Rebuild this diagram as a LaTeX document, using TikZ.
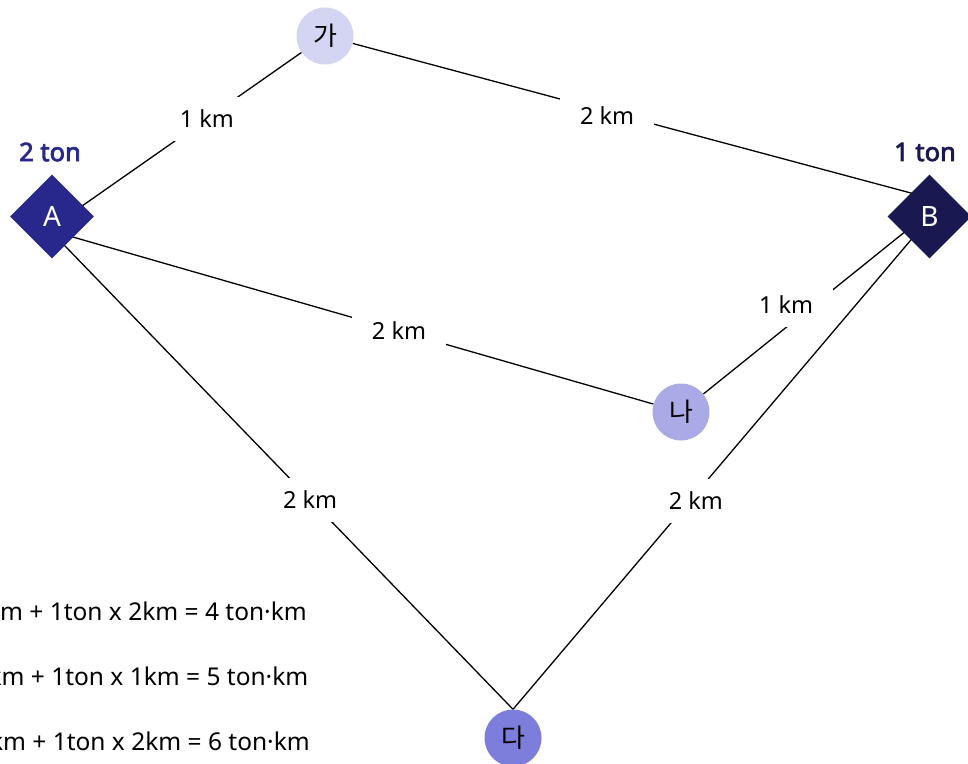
\documentclass[tikz,border=0pt]{standalone}
\usepackage{fontspec}
\setmainfont{Noto Sans}
\newfontfamily\krfont{Noto Sans CJK KR}
\newfontfamily\heavyfont[FakeBold=3]{Noto Sans}
\usetikzlibrary{shapes.geometric,backgrounds}

\definecolor{hubA}{HTML}{28288C}
\definecolor{hubB}{HTML}{1A1850}
\definecolor{siteGa}{HTML}{D4D4F3}
\definecolor{siteNa}{HTML}{AAAAE6}
\definecolor{siteDa}{HTML}{7D7DDC}

\begin{document}
\begin{tikzpicture}[x=1pt,y=-1pt,
  hub/.style={diamond, aspect=1, minimum width=84pt, minimum height=84pt,
    inner sep=0pt, text=white, font=\fontsize{28}{30}\selectfont},
  site/.style={circle, minimum size=57pt, inner sep=0pt,
    font=\krfont\fontsize{26}{28}\selectfont},
  road/.style={line width=1.3pt, black},
  dist/.style={fill=white, minimum width=94pt, minimum height=44pt,
    inner sep=0pt, font=\fontsize{23.5}{26}\selectfont},
  load/.style={font=\heavyfont\fontsize{25.5}{28}\selectfont},
  calc/.style={anchor=base east, inner sep=0pt,
    font=\fontsize{24.5}{28}\selectfont}]

\useasboundingbox (0,0) rectangle (968,763);

% supply hubs
\node[hub, fill=hubA] (A) at (52,216.5) {A};
\node[hub, fill=hubB] (B) at (929.5,216.5) {B};
\node[load, text=hubA] (loadA) at (50,152) {2 ton};
\node[load, text=hubB] (loadB) at (925,152) {1 ton};

% candidate sites
\node[site, fill=siteGa] (ga) at (325,36) {가};
\node[site, fill=siteNa] (na) at (681,412) {나};
\node[site, fill=siteDa] (da) at (513,738) {다};

% transport cost sums
\node[calc] (eq1) at (307,620) {m + 1ton x 2km = 4 ton·km};
\node[calc] (eq2) at (308.5,685) {km + 1ton x 1km = 5 ton·km};
\node[calc] (eq3) at (310,750) {km + 1ton x 2km = 6 ton·km};

% roads with distances, kept behind the nodes
\begin{scope}[on background layer]
\fill[white] (0,0) rectangle (968,763);
\draw[road] ([yshift=-10.5pt]A.center) -- node[dist, pos=0.621] {1 km} (ga);
\draw[road] (ga) -- node[dist, pos=0.441, yshift=-4pt] {2 km} ([yshift=18.5pt]B.center);
\draw[road] ([yshift=-14.5pt]A.center) -- node[dist, pos=0.577] {2 km} (na);
\draw[road] ([yshift=4.5pt]B.center) -- node[dist, pos=0.51, xshift=-28pt] {1 km} (na);
\draw[road] ([yshift=-16pt]A.center) -- node[dist, pos=0.56] {2 km} (da.north);
\draw[road] ([yshift=-1.5pt]B.center) -- node[dist, pos=0.561, yshift=-7pt] {2 km} (da.north);
\end{scope}
\end{tikzpicture}
\end{document}
